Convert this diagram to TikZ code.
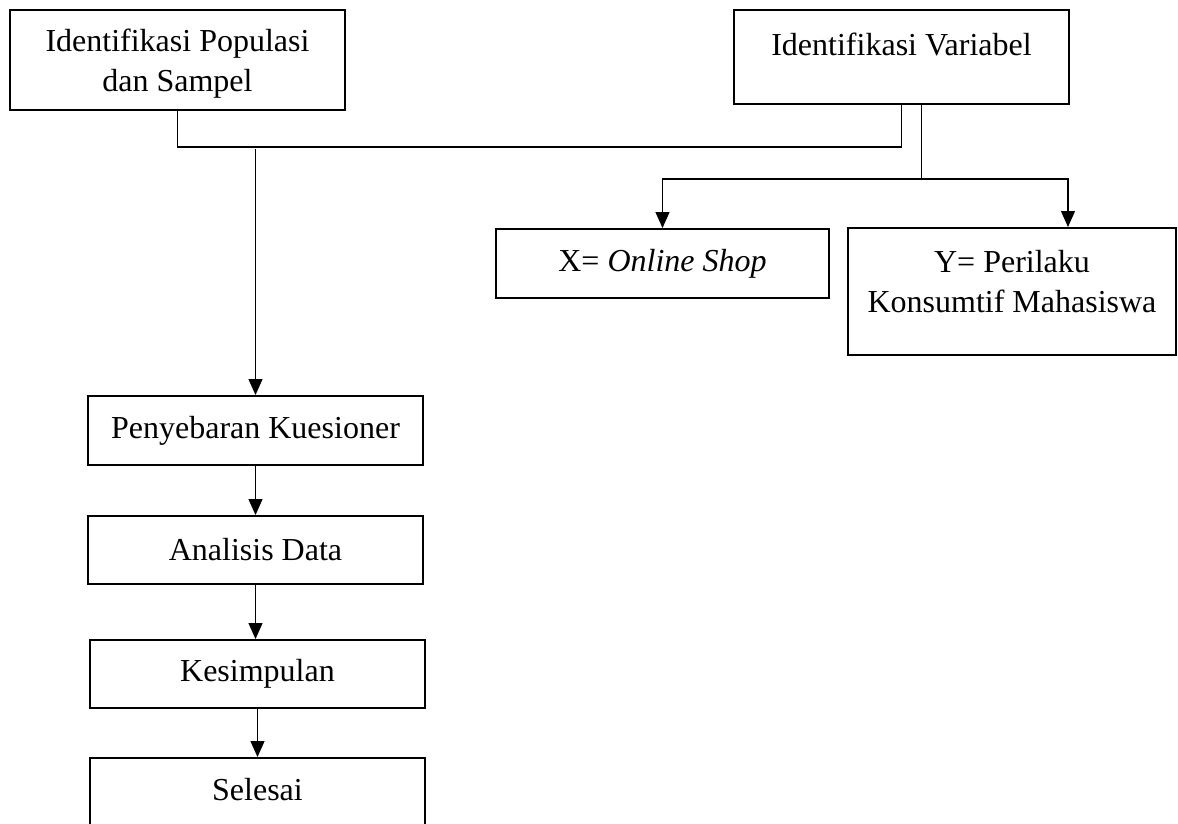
\documentclass[tikz,border=0pt]{standalone}
\usepackage{fontspec}
\setmainfont{Liberation Serif}
\usetikzlibrary{arrows.meta,calc}

\begin{document}
\begin{tikzpicture}[x=0.75pt,y=0.75pt,yscale=-1,xscale=1,
  box/.style={draw, line width=1.5pt, align=center, inner sep=0.75pt,
    minimum width=251.25pt, font=\fontsize{24}{30}\selectfont},
  link/.style={line width=0.9pt},
  arr/.style={link, -{Triangle[width=10.5pt,length=12pt]}}]
\useasboundingbox (0,0) rectangle (1178,824);

% Shape: Rectangle
\node (pop) [box, minimum height=75pt, text depth=0pt] at (177.5,60) {Identifikasi Populasi\\dan Sampel};
\node (var) [box, minimum height=70.5pt, text depth=19.5pt] at (901.5,57) {Identifikasi Variabel};
\node (xvar) [box, minimum width=249.75pt, minimum height=51.75pt] at (662.5,263.5) {X= \textit{Online Shop}};
\node (yvar) [box, minimum width=246pt, minimum height=95.25pt, text depth=15.75pt] at (1012,291.5) {Y= Perilaku\\Konsumtif Mahasiswa};
\node (pen) [box, minimum height=51.75pt] at (255.5,430.5) {Penyebaran Kuesioner};
\node (ana) [box, minimum height=51pt] at (255.5,550) {Analisis Data};
\node (kes) [box, minimum height=51pt] at (257.5,674) {Kesimpulan};
\node (sel) [box, minimum height=95.25pt, text depth=48.75pt] at (257.5,821.5) {Selesai};

% Straight Lines
\draw[link] (pop.south) -- ++(0,36) -| (var.south);
\coordinate (split) at (255.5,149);
\draw[arr] (split) -- (pen.north);
\draw[link] ([xshift=15pt]var.south) -- ++(0,74) coordinate (fork);
\draw[arr] (fork) -| (xvar.north);
\draw[arr] (fork) -| ([xshift=42pt]yvar.north);
\draw[arr] (pen.south) -- (ana.north);
\draw[arr] (ana.south) -- (ana.south |- kes.north);
\draw[arr] (kes.south) -- (sel.north);

\end{tikzpicture}
\end{document}
